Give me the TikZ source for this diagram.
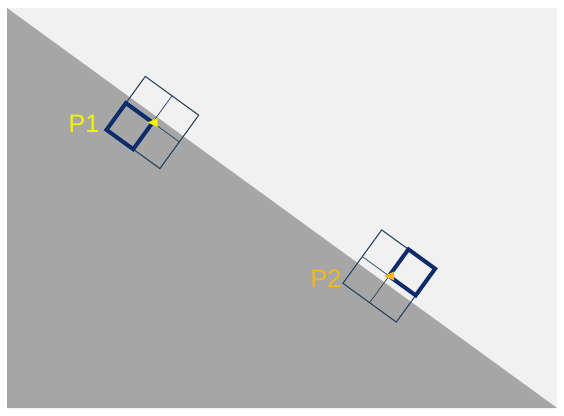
\documentclass[tikz,border=0pt]{standalone}
\usepackage{fontspec}
\setmainfont{Liberation Sans}
\usepackage{tikz}
\usetikzlibrary{positioning,calc}
\definecolor{paper}{HTML}{F1F1F1}
\definecolor{ground}{HTML}{A6A6A6}
\definecolor{gridline}{HTML}{24415E}
\definecolor{cellnavy}{HTML}{0E2C6C}
\definecolor{ptyellow}{HTML}{F4F400}
\definecolor{ptgold}{HTML}{F2B81C}

\begin{document}
\begin{tikzpicture}[x=0.03cm,y=0.03cm,
    probe/.style={draw=gridline,line width=0.9pt},
    probecross/.style={draw=gridline,line width=0.6pt},
    hitcell/.style={draw=cellnavy,line width=3.4pt,line join=miter},
    ptlabel/.style={font=\fontsize{21.5}{24}\selectfont,inner sep=0pt}]
  \useasboundingbox (0,0) rectangle (564,415);
  % background and slope
  \fill[paper] (7,7) rectangle (557,407);
  \fill[ground] (7,407) -- (557,7) -- (7,7) -- cycle;
  \coordinate (c1) at (152.6,292.5);
  \coordinate (c2) at (389,139);
  % probe P1
  \begin{scope}[shift={(c1)},rotate=-36]
    \draw[probecross] (-33,0) -- (33,0) (0,-33) -- (0,33);
    \draw[probe] (-33,-33) rectangle (33,33);
    \draw[hitcell] (-33,-33) rectangle (0,0);
  \end{scope}
  \fill[ptyellow] (c1) ++(-5,0) -- ++(10,4.5) -- ++(0,-9) -- cycle;
  % probe P2
  \begin{scope}[shift={(c2)},rotate=-36]
    \draw[probecross] (-33,0) -- (33,0) (0,-33) -- (0,33);
    \draw[probe] (-33,-33) rectangle (33,33);
    \draw[hitcell] (0,0) rectangle (33,33);
  \end{scope}
  \fill[ptgold] (c2) ++(-5,0) -- ++(10,4.5) -- ++(0,-9) -- cycle;
  % labels
  \node[ptlabel,text=ptyellow] (p1) at (84,291) {P1};
  \node[ptlabel,text=ptgold] (p2) at (326,136) {P2};
\end{tikzpicture}
\end{document}
